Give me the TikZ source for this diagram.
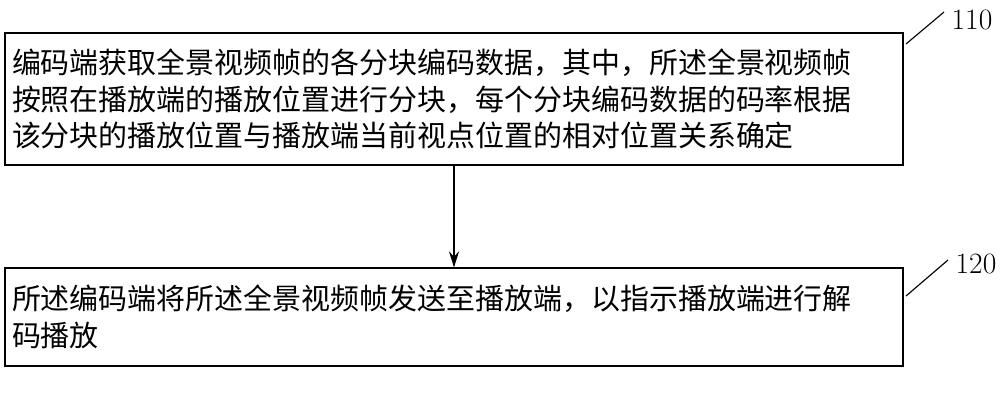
\documentclass[tikz,border=0pt]{standalone}
\usepackage{fontspec}
\usetikzlibrary{arrows.meta}
\newfontfamily\cjk{Noto Sans CJK SC}
\begin{document}
\begin{tikzpicture}[
    stepbox/.style={rectangle, draw, thick, minimum width=22.45cm, text width=22.1cm, align=left, font=\cjk\fontsize{20.6}{26}\selectfont},
    arrow/.style={-{Stealth[length=4mm, width=2.5mm]}, thick},
    tag/.style={font=\fontsize{21}{24}\selectfont}
]
    \useasboundingbox (0,0) rectangle (25,-10.425);
    % Schritte
    \node[stepbox, minimum height=3.3cm] (s110) at (11.35,-2.475) {编码端获取全景视频帧的各分块编码数据，其中，所述全景视频帧\\按照在播放端的播放位置进行分块，每个分块编码数据的码率根据\\该分块的播放位置与播放端当前视点位置的相对位置关系确定};
    \node[stepbox, minimum height=2.45cm] (s120) at (11.35,-7.925) {所述编码端将所述全景视频帧发送至播放端，以指示播放端进行解\\码播放};

    % Nummern
    \node[tag] (n110) at (24.3,-0.5) {110};
    \node[tag] (n120) at (24.4,-6.6) {120};
    \coordinate (c110) at (22.65,-1.1);
    \coordinate (c120) at (22.65,-7.4);
    \draw[thick] (c110) -- (23.6,-0.3);
    \draw[thick] (c120) -- (23.7,-6.5);

    % Pfeil
    \draw[arrow] (s110) -- (s120);
\end{tikzpicture}
\end{document}
